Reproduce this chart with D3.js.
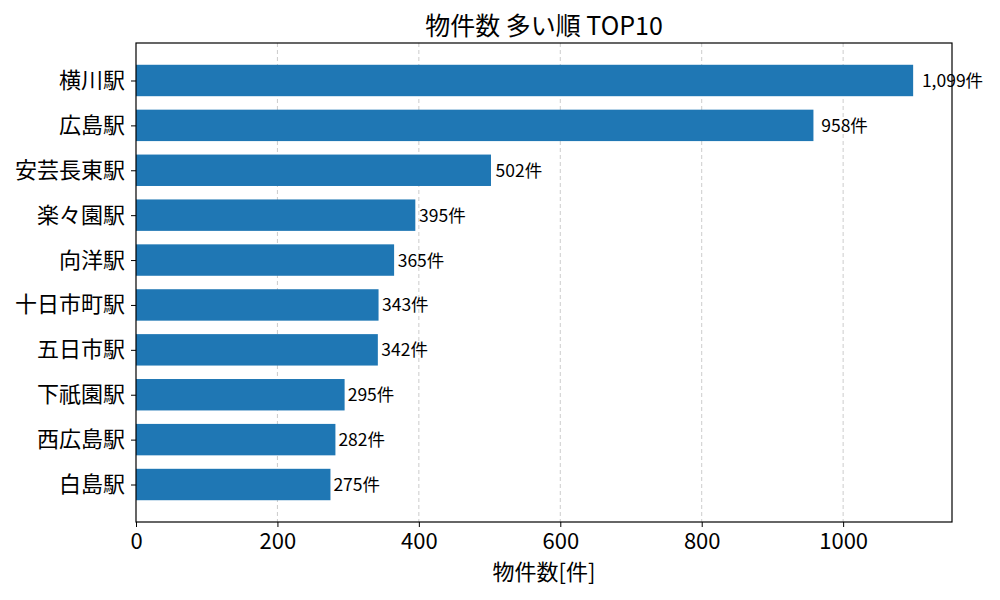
<!DOCTYPE html>
<html>
<head>
<meta charset="utf-8">
<script src="https://cdn.jsdelivr.net/npm/d3@7"></script>
<style>
  body { margin: 0; background: #fff; }
  svg text { font-family: "Noto Sans CJK JP", "Noto Sans", sans-serif; fill: #000; }
</style>
</head>
<body>
<svg width="1000" height="600"></svg>
<script>
const stations = ["横川駅", "広島駅", "安芸長東駅", "楽々園駅", "向洋駅", "十日市町駅", "五日市駅", "下祇園駅", "西広島駅", "白島駅"];
const counts = [1099, 958, 502, 395, 365, 343, 342, 295, 282, 275];
const xTicks = [0, 200, 400, 600, 800, 1000];

const svg = d3.select("svg"),
      margin = {top: 43, right: 48, bottom: 78, left: 136},
      width = 1000 - margin.left - margin.right,
      height = 600 - margin.top - margin.bottom;

const g = svg.append("g")
  .attr("transform", `translate(${margin.left},${margin.top})`);

const xScale = d3.scaleLinear()
  .domain([0, d3.max(counts) * 1.05]).range([0, width]);

// matplotlib-like category layout: bar height 0.7, 5% margins
const n = stations.length;
const lo = -0.35 - 0.05 * (n - 1 + 0.7), hi = n - 1 + 0.35 + 0.05 * (n - 1 + 0.7);
const yPos = d3.scaleLinear().domain([lo, hi]).range([0, height]);
const unit = yPos(1) - yPos(0);

// grid
g.append("g").selectAll("line")
  .data(xTicks.slice(1))
  .enter().append("line")
  .attr("x1", d => xScale(d)).attr("x2", d => xScale(d))
  .attr("y1", 0).attr("y2", height)
  .attr("stroke", "#cccccc")
  .attr("stroke-width", 1)
  .attr("stroke-dasharray", "4,3");

// bars
g.selectAll("rect.bar")
  .data(counts)
  .enter().append("rect")
  .attr("class", "bar")
  .attr("x", 0)
  .attr("y", (d, i) => yPos(i) - unit * 0.35)
  .attr("width", d => xScale(d))
  .attr("height", unit * 0.7)
  .attr("fill", "#1f77b4");

// value labels
g.selectAll("text.val")
  .data(counts)
  .enter().append("text")
  .attr("class", "val")
  .attr("x", d => xScale(d * 1.01) + 1)
  .attr("y", (d, i) => yPos(i) - 1)
  .attr("dominant-baseline", "central")
  .style("font-size", "17.5px")
  .text(d => d3.format(",")(d) + "件");

// axes
const xAxis = g.append("g")
  .attr("transform", `translate(0,${height})`)
  .call(d3.axisBottom(xScale).tickValues(xTicks).tickFormat(d3.format("d")).tickSizeOuter(0).tickSize(5).tickPadding(6));
xAxis.selectAll("text").style("font-size", "22px");

const yAxis = g.append("g")
  .call(d3.axisLeft(yPos).tickValues(d3.range(n)).tickFormat(i => stations[i]).tickSizeOuter(0).tickSize(5).tickPadding(6));
yAxis.selectAll("text").style("font-size", "22px");
[xAxis, yAxis].forEach(a => {
  a.select(".domain").remove();
  a.selectAll("line").attr("stroke", "#000");
});

// frame
g.append("rect")
  .attr("width", width).attr("height", height)
  .attr("fill", "none").attr("stroke", "#000").attr("stroke-width", 1.2);

// title & axis label
svg.append("text")
  .attr("x", margin.left + width / 2)
  .attr("y", 35)
  .attr("text-anchor", "middle")
  .style("font-size", "25px")
  .text("物件数 多い順 TOP10");

svg.append("text")
  .attr("x", margin.left + width / 2)
  .attr("y", margin.top + height + 58)
  .attr("text-anchor", "middle")
  .style("font-size", "22px")
  .text("物件数[件]");
</script>
</body>
</html>
